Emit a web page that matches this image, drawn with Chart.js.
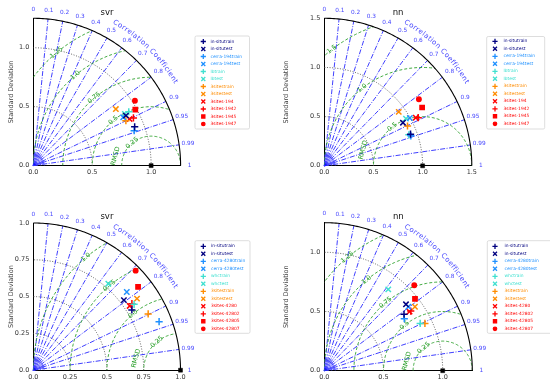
<!DOCTYPE html>
<html>
<head>
<meta charset="utf-8">
<script src="https://cdn.jsdelivr.net/npm/chart.js@4.4.1/dist/chart.umd.min.js"></script>
<style>
html, body { margin: 0; padding: 0; background: #fff; width: 550px; height: 385px; overflow: hidden; }
canvas { position: absolute; }
</style>
</head>
<body>
<canvas id="c1" width="275" height="193" style="left:0;top:0"></canvas>
<canvas id="c2" width="275" height="193" style="left:275px;top:0"></canvas>
<canvas id="c3" width="275" height="192" style="left:0;top:193px"></canvas>
<canvas id="c4" width="275" height="192" style="left:275px;top:193px"></canvas>
<script>
// ── Data ──
const NAMES_194 = ['in-situtrain', 'in-situtest', 'cerra-194train', 'cerra-194test', 'lbtrain', 'lbtest',
    '3sitestrain', '3sitestest', '3sites-194', '3sites-1942', '3sites-1945', '3sites-1947'];
const NAMES_4280 = ['in-situtrain', 'in-situtest', 'cerra-4280train', 'cerra-4280test', 'whctrain', 'whctest',
    '3sitestrain', '3sitestest', '3sites-4280', '3sites-42802', '3sites-42805', '3sites-42807'];

// standard deviation / correlation per series (same order as names)
const STD_SVR_194  = [0.921, 0.893, 0.906, 0.866, 0.930, 0.892, 0.873, 0.849, 0.908, 0.941, 0.987, 1.023];
const CORR_SVR_194 = [0.934, 0.880, 0.945, 0.881, 0.871, 0.871, 0.900, 0.825, 0.900, 0.903, 0.877, 0.843];
const STD_NN_194   = [0.934, 0.912, 0.931, 0.997, 0.916, 0.959, 0.938, 0.935, 1.051, 1.073, 1.158, 1.176];
const CORR_NN_194  = [0.939, 0.877, 0.945, 0.873, 0.939, 0.866, 0.902, 0.810, 0.885, 0.890, 0.859, 0.818];
const STD_SVR_4280  = [0.785, 0.778, 0.916, 0.828, 0.818, 0.778, 0.869, 0.856, 0.787, 0.808, 0.909, 0.970];
const CORR_SVR_4280 = [0.853, 0.791, 0.933, 0.767, 0.837, 0.655, 0.898, 0.823, 0.832, 0.829, 0.783, 0.717];
const STD_NN_4280   = [0.825, 0.889, 0.806, 0.892, 0.903, 0.874, 0.939, 0.937, 0.876, 0.887, 0.977, 1.048];
const CORR_NN_4280  = [0.816, 0.776, 0.838, 0.796, 0.897, 0.618, 0.905, 0.817, 0.822, 0.823, 0.784, 0.725];

const REF_STD = 1.0;

// axis ticks and RMSD contour levels
const STD_TICKS_A = [0, 0.5, 1.0];
const STD_TICKS_B = [0, 0.5, 1.0, 1.5];
const STD_TICKS_C = [0, 0.25, 0.5, 0.75, 1.0];
const RMS_A = [0.25, 0.5, 0.75, 1.0, 1.25];
const RMS_B = [0.5, 1.0, 1.5];
const RMS_C = [0.25, 0.5, 0.75, 1.0];
const CORR_TICKS = [0, 0.1, 0.2, 0.3, 0.4, 0.5, 0.6, 0.7, 0.8, 0.9, 0.95, 0.99, 1];
const CORR_MINOR = [0.05, 0.15, 0.25, 0.35, 0.45, 0.55, 0.65, 0.75, 0.85, 0.91, 0.92, 0.93, 0.94, 0.96, 0.97, 0.98];

// ── Styles ──
const SERIES_COLORS = ['#000080', '#000080', '#1e90ff', '#1e90ff', '#40e0d0', '#40e0d0',
    '#ff8c00', '#ff8c00', '#ff0000', '#ff0000', '#ff0000', '#ff0000'];
const SERIES_MARKERS = ['cross', 'crossRot', 'cross', 'crossRot', 'cross', 'crossRot',
    'cross', 'crossRot', 'crossRot', 'cross', 'rect', 'circle'];
const MARK_R = { cross: 3.6, crossRot: 3.8, rect: 3.0, circle: 2.2 };
const LEG_R  = { cross: 2.6, crossRot: 2.8, rect: 2.2, circle: 1.7 };
const FONT = '"DejaVu Sans", sans-serif';

Chart.defaults.font.family = FONT;

const fmt = v => Number.isInteger(v) ? v.toFixed(1) : String(v);
const toXY = (s, c) => ({ x: s * c, y: s * Math.sqrt(1 - c * c) });

function marker(ctx, style, r, x, y) {
    if (Chart.helpers && Chart.helpers.drawPoint) {
        Chart.helpers.drawPoint(ctx, { pointStyle: style, radius: r, rotation: 0, borderWidth: 1 }, x, y);
        return;
    }
    ctx.beginPath();
    ctx.arc(x, y, r, 0, Math.PI * 2);
    ctx.fill();
}

// ── Taylor diagram furniture ──
const taylor = {
    id: 'taylor',
    beforeDatasetsDraw(chart, args, o) {
        const ctx = chart.ctx, xs = chart.scales.x, ys = chart.scales.y;
        const P = (x, y) => [xs.getPixelForValue(x), ys.getPixelForValue(y)];
        const R = o.rmax;
        const [ox, oy] = P(0, 0);
        const arc = (cx, cy, r, a0, a1) => {
            const n = 120;
            for (let i = 0; i <= n; i++) {
                const a = a0 + (a1 - a0) * i / n;
                const [px, py] = P(cx + r * Math.cos(a), cy + r * Math.sin(a));
                if (i === 0) ctx.moveTo(px, py); else ctx.lineTo(px, py);
            }
        };
        ctx.save();

        // std dev dotted arcs
        ctx.lineWidth = 0.9;
        ctx.strokeStyle = '#555';
        ctx.setLineDash([1, 1.6]);
        o.ticks.filter(v => v > 0 && v < R).forEach(s => {
            ctx.beginPath(); arc(0, 0, s, 0, Math.PI / 2); ctx.stroke();
        });

        // correlation rays
        ctx.strokeStyle = '#2a2aff';
        ctx.lineWidth = 0.9;
        ctx.setLineDash([5, 1.5, 1, 1.5]);
        CORR_TICKS.filter(c => c > 0 && c < 1).forEach(c => {
            const [px, py] = P(R * c, R * Math.sqrt(1 - c * c));
            ctx.beginPath(); ctx.moveTo(ox, oy); ctx.lineTo(px, py); ctx.stroke();
        });

        // dense fan at origin
        ctx.setLineDash([]);
        ctx.lineWidth = 0.5;
        ctx.strokeStyle = '#4848ff';
        CORR_MINOR.forEach(c => {
            const a = Math.acos(c);
            ctx.beginPath(); ctx.moveTo(ox, oy);
            ctx.lineTo(ox + 11 * Math.cos(a), oy - 11 * Math.sin(a)); ctx.stroke();
        });
        [4, 7.5, 11].forEach(r => {
            ctx.beginPath(); ctx.arc(ox, oy, r, -Math.PI / 2, 0); ctx.stroke();
        });
        ctx.fillStyle = '#1010ff';
        ctx.beginPath(); ctx.moveTo(ox, oy); ctx.arc(ox, oy, 2.6, -Math.PI / 2, 0); ctx.closePath(); ctx.fill();

        // RMSD circles, clipped to the quadrant
        ctx.save();
        ctx.beginPath(); arc(0, 0, R, 0, Math.PI / 2); ctx.lineTo(ox, oy); ctx.closePath(); ctx.clip();
        ctx.strokeStyle = '#2ca02c';
        ctx.lineWidth = 0.9;
        ctx.setLineDash([3, 2]);
        o.rms.forEach(r => {
            ctx.beginPath(); arc(o.ref, 0, r, 0, Math.PI); ctx.stroke();
        });
        ctx.restore();

        // outer arc
        ctx.setLineDash([]);
        ctx.strokeStyle = '#000';
        ctx.lineWidth = 1.1;
        ctx.beginPath(); arc(0, 0, R, 0, Math.PI / 2); ctx.stroke();

        // RMSD labels
        ctx.fillStyle = '#2ca02c';
        ctx.font = '6.5px ' + FONT;
        ctx.textAlign = 'center';
        ctx.textBaseline = 'middle';
        const phi = o.rmsAngle * Math.PI / 180;
        o.rms.forEach(r => {
            const [px, py] = P(o.ref + r * Math.cos(phi), r * Math.sin(phi));
            ctx.save(); ctx.translate(px, py); ctx.rotate(-(phi - Math.PI / 2));
            ctx.fillText(fmt(r), 0, 0); ctx.restore();
        });
        const phd = 165 * Math.PI / 180, dd = o.rms[0] * 1.25;
        const [dx, dy] = P(o.ref + dd * Math.cos(phd), dd * Math.sin(phd));
        ctx.save(); ctx.translate(dx, dy); ctx.rotate(-(phd - Math.PI / 2));
        ctx.fillText('RMSD', 0, 0); ctx.restore();

        ctx.restore();
    },
    afterDraw(chart, args, o) {
        const ctx = chart.ctx, xs = chart.scales.x, ys = chart.scales.y;
        const ox = xs.getPixelForValue(0), oy = ys.getPixelForValue(0);
        const Rpx = xs.getPixelForValue(o.rmax) - ox;
        ctx.save();
        ctx.textAlign = 'center';
        ctx.textBaseline = 'middle';

        // correlation tick labels
        ctx.fillStyle = '#4646ff';
        ctx.font = '5.8px ' + FONT;
        CORR_TICKS.forEach(c => {
            const a = Math.acos(c), rr = Rpx + 9;
            ctx.fillText(String(c), ox + rr * Math.cos(a), oy - rr * Math.sin(a));
        });

        // curved axis name
        const txt = [...'Correlation Coefficient'];
        ctx.font = '7px ' + FONT;
        const w = txt.map(ch => ctx.measureText(ch).width);
        const total = w.reduce((a, b) => a + b, 0);
        const a0 = 61 * Math.PI / 180, a1 = 30 * Math.PI / 180, Rt = Rpx + 17.5;
        let acc = 0;
        txt.forEach((ch, i) => {
            const a = a0 + (a1 - a0) * (acc + w[i] / 2) / total;
            acc += w[i];
            ctx.save();
            ctx.translate(ox + Rt * Math.cos(a), oy - Rt * Math.sin(a));
            ctx.rotate(Math.PI / 2 - a);
            ctx.fillText(ch, 0, 0);
            ctx.restore();
        });

        // title
        const ca = chart.chartArea;
        ctx.fillStyle = '#111';
        ctx.font = '8.5px ' + FONT;
        ctx.fillText(o.title, (ca.left + ca.right) / 2, o.titleY);

        // legend
        const L = o.legend;
        ctx.fillStyle = '#fff';
        ctx.strokeStyle = '#d4d4d4';
        ctx.lineWidth = 0.8;
        ctx.beginPath();
        if (ctx.roundRect) ctx.roundRect(L.x, L.y, L.w, L.h, 1.5); else ctx.rect(L.x, L.y, L.w, L.h);
        ctx.fill(); ctx.stroke();
        ctx.textAlign = 'left';
        ctx.font = '4.4px ' + FONT;
        chart.data.datasets.filter(d => !d.isRef).forEach((d, i) => {
            const y = L.y0 + i * L.dy;
            ctx.strokeStyle = d.borderColor;
            ctx.fillStyle = d.backgroundColor;
            ctx.lineWidth = 1.3;
            marker(ctx, d.pointStyle, LEG_R[d.pointStyle], L.mx, y);
            ctx.fillStyle = d.borderColor;
            ctx.fillText(d.label, L.tx, y);
        });
        ctx.restore();
    }
};

// ── Build one panel ──
function makePanel(id, cfg) {
    const cv = document.getElementById(id);
    const W = cv.width, H = cv.height;
    const datasets = cfg.names.map((name, i) => ({
        label: name,
        data: [toXY(cfg.std[i], cfg.corr[i])],
        pointStyle: SERIES_MARKERS[i],
        pointRadius: MARK_R[SERIES_MARKERS[i]],
        borderColor: SERIES_COLORS[i],
        backgroundColor: SERIES_COLORS[i],
        pointBorderWidth: 1.5,
        clip: false,
    }));
    datasets.push({
        label: 'ref', isRef: true,
        data: [{ x: REF_STD, y: 0 }],
        pointStyle: 'rect', pointRadius: 2.8, pointBorderWidth: 0.5,
        borderColor: '#000', backgroundColor: '#000', clip: false,
    });

    const tickFont = { size: 6.5, family: FONT };
    const axis = (extra) => Object.assign({
        type: 'linear', min: 0, max: cfg.rmax,
        grid: { display: true, drawOnChartArea: false, drawTicks: false, color: 'rgba(0,0,0,0)' },
        border: { display: true, color: '#000', width: 1 },
        afterBuildTicks: s => { s.ticks = cfg.ticks.map(v => ({ value: v })); },
    }, extra);

    new Chart(cv, {
        type: 'scatter',
        data: { datasets },
        options: {
            responsive: false,
            animation: false,
            events: [],
            layout: { padding: { left: 0, top: cfg.box.top, right: W - cfg.box.left - cfg.box.size, bottom: 0 } },
            scales: {
                x: axis({
                    afterFit: s => { s.height = H - cfg.box.top - cfg.box.size; },
                    ticks: { callback: v => fmt(v), font: tickFont, color: '#333', autoSkip: false, maxRotation: 0, padding: 3 },
                }),
                y: axis({
                    afterFit: s => { s.width = cfg.box.left; },
                    ticks: { callback: v => fmt(v), font: tickFont, color: '#333', autoSkip: false, padding: 4 },
                    title: { display: true, text: 'Standard Deviation', color: '#444',
                             font: { size: 6.5, family: FONT }, padding: { top: 7.5, bottom: 0 } },
                }),
            },
            plugins: {
                legend: { display: false },
                tooltip: { enabled: false },
                taylor: cfg,
            },
        },
        plugins: [taylor],
    });
}

makePanel('c1', {
    title: 'svr', titleY: 13, rmax: 1.25, ref: REF_STD, ticks: STD_TICKS_A, rms: RMS_A, rmsAngle: 130,
    names: NAMES_194, std: STD_SVR_194, corr: CORR_SVR_194,
    box: { left: 33.3, top: 18.3, size: 147.3 },
    legend: { x: 195, y: 36, w: 54.5, h: 93, mx: 203.3, tx: 210.5, y0: 41.5, dy: 7.5 },
});
makePanel('c2', {
    title: 'nn', titleY: 12.7, rmax: 1.5, ref: REF_STD, ticks: STD_TICKS_B, rms: RMS_B, rmsAngle: 128,
    names: NAMES_194, std: STD_NN_194, corr: CORR_NN_194,
    box: { left: 49.3, top: 18.3, size: 147.5 },
    legend: { x: 211.7, y: 36.5, w: 58, h: 92.5, mx: 220, tx: 228.5, y0: 41.3, dy: 7.5 },
});
makePanel('c3', {
    title: 'svr', titleY: 23.7, rmax: 1.0, ref: REF_STD, ticks: STD_TICKS_C, rms: RMS_C, rmsAngle: 130,
    names: NAMES_4280, std: STD_SVR_4280, corr: CORR_SVR_4280,
    box: { left: 33.3, top: 30, size: 147.2 },
    legend: { x: 195, y: 47.7, w: 55, h: 92.6, mx: 203.3, tx: 211, y0: 53.3, dy: 7.5 },
});
makePanel('c4', {
    title: 'nn', titleY: 23.7, rmax: 1.25, ref: REF_STD, ticks: STD_TICKS_A, rms: RMS_A, rmsAngle: 130,
    names: NAMES_4280, std: STD_NN_4280, corr: CORR_NN_4280,
    box: { left: 49.3, top: 29.7, size: 148 },
    legend: { x: 212.3, y: 47.7, w: 70, h: 92.6, mx: 220, tx: 229.5, y0: 53.3, dy: 7.5 },
});
</script>
</body>
</html>
